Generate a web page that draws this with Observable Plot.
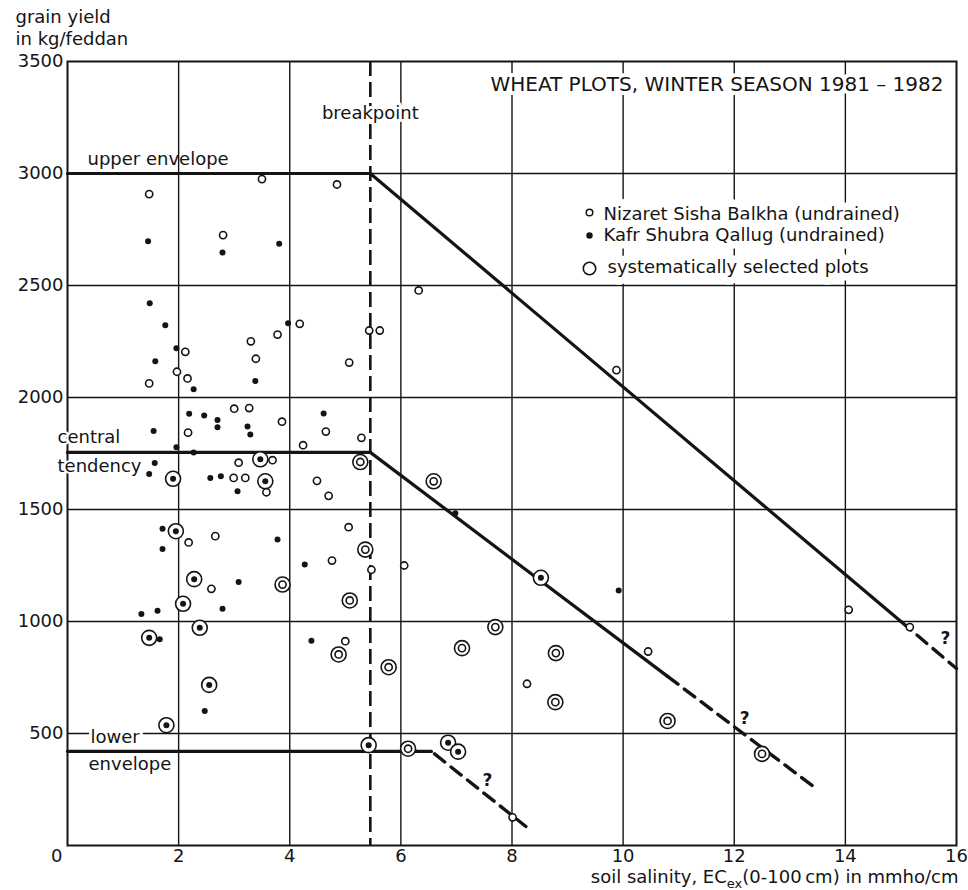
<!DOCTYPE html>
<html>
<head>
<meta charset="utf-8">
<script src="https://cdn.jsdelivr.net/npm/d3@7"></script>
<script src="https://cdn.jsdelivr.net/npm/@observablehq/plot@0.6"></script>
<style>
html,body{margin:0;padding:0;background:#fff;}
#chart svg{display:block;}
</style>
</head>
<body>
<div id="chart"></div>
<script>
// ---- Data ----
// Nizaret Sisha Balkha (undrained) – open circles
const nizaretX = [3.50, 4.85, 1.47, 2.80, 4.18, 5.43, 5.62, 3.78, 3.30, 2.12, 3.39, 5.07, 1.97, 2.16, 1.47, 3.00, 3.27, 3.86, 2.17, 4.65, 5.29, 4.24, 3.08, 3.69, 2.99, 3.20, 3.58, 4.49, 4.70, 2.18, 2.66, 5.06, 5.47, 4.76, 2.59, 5.00, 6.32, 6.06, 10.45, 8.27, 8.01, 14.06, 15.16, 9.88];
const nizaretY = [2975, 2951, 2908, 2725, 2329, 2299, 2299, 2281, 2251, 2204, 2173, 2156, 2115, 2085, 2063, 1950, 1953, 1892, 1843, 1848, 1820, 1787, 1709, 1720, 1641, 1641, 1577, 1628, 1561, 1353, 1381, 1421, 1231, 1272, 1146, 912, 2478, 1250, 866, 722, 126, 1052, 975, 2122];
// Kafr Shubra Qallug (undrained) – filled dots
const kafrX = [1.45, 2.79, 3.81, 1.48, 1.76, 3.97, 1.96, 1.58, 3.38, 2.27, 4.61, 2.19, 2.46, 2.70, 2.70, 3.24, 3.29, 1.55, 1.96, 2.27, 1.57, 1.47, 2.57, 2.76, 3.06, 1.71, 3.78, 1.71, 4.27, 3.08, 1.33, 1.62, 2.79, 1.66, 4.39, 2.47, 6.98, 9.92];
const kafrY = [2698, 2647, 2686, 2421, 2323, 2332, 2220, 2162, 2074, 2037, 1929, 1927, 1920, 1900, 1867, 1870, 1835, 1850, 1778, 1755, 1708, 1659, 1641, 1648, 1582, 1414, 1366, 1324, 1254, 1176, 1034, 1048, 1057, 921, 914, 601, 1483, 1138];
// systematically selected plots (ring) – Nizaret (open inside)
const selNizaretX = [5.27, 5.36, 3.87, 5.08, 4.88, 6.59, 5.78, 7.10, 7.70, 8.79, 8.78, 10.80, 6.13, 12.50];
const selNizaretY = [1712, 1321, 1165, 1094, 853, 1626, 796, 881, 975, 859, 640, 556, 432, 409];
// systematically selected plots (ring) – Kafr (filled inside)
const selKafrX = [1.90, 3.47, 3.56, 1.95, 2.28, 2.08, 2.38, 1.47, 2.55, 1.78, 5.42, 8.52, 6.85, 7.03];
const selKafrY = [1637, 1724, 1626, 1403, 1189, 1079, 972, 927, 717, 537, 448, 1195, 459, 419];

// envelope / tendency lines (vertices)
const breakX = 5.45;
const upperX = [0, 5.45, 15.0], upperY = [3000, 3000, 1000];
const upperExtX = [15.0, 16.0], upperExtY = [1000, 790];
const centralX = [0, 5.45, 10.8], centralY = [1755, 1755, 755];
const centralExtX = [10.8, 13.4], centralExtY = [755, 268];
const lowerX = [0, 6.55], lowerY = [420, 420];
const lowerExtX = [6.55, 8.25], lowerExtY = [420, 85];
// question marks on the uncertain extensions
const qX = [7.56, 12.19, 15.8], qY = [290, 567, 924];

// ticks / grid
const xTicks = [2, 4, 6, 8, 10, 12, 14, 16];
const yTicks = [500, 1000, 1500, 2000, 2500, 3000, 3500];
const xGrid = [2, 4, 6, 8, 10, 12, 14];
const yGrid = [500, 1000, 1500, 2000, 2500, 3000];

// texts
const titleText = "WHEAT PLOTS, WINTER SEASON 1981 \u2013 1982";
const legendLabels = ["Nizaret Sisha Balkha (undrained)", "Kafr Shubra Qallug (undrained)", "systematically selected plots"];
const yLabel = "grain yield\nin kg/feddan";
const xLabelParts = ["soil salinity, EC", "ex", "(0-100\u2009cm) in mmho/cm"];

// ---- build tables ----
const pts = (xs, ys) => xs.map((x, i) => ({x, y: ys[i]}));
const nizaret = pts(nizaretX, nizaretY);
const kafr = pts(kafrX, kafrY);
const selN = pts(selNizaretX, selNizaretY);
const selK = pts(selKafrX, selKafrY);
const upper = pts(upperX, upperY), upperExt = pts(upperExtX, upperExtY);
const central = pts(centralX, centralY), centralExt = pts(centralExtX, centralExtY);
const lower = pts(lowerX, lowerY), lowerExt = pts(lowerExtX, lowerExtY);
const qs = pts(qX, qY);

const ink = "#141414";
const font = "DejaVu Sans";
const halo = {stroke: "white", strokeWidth: 6, fill: ink};

const chart = Plot.plot({
  width: 968,
  height: 890,
  marginLeft: 67,
  marginRight: 12,
  marginTop: 61,
  marginBottom: 45,
  style: {fontFamily: font, fontSize: "18px", color: ink, background: "white"},
  x: {domain: [0, 16]},
  y: {domain: [0, 3500]},
  marks: [
    Plot.ruleX(xGrid, {stroke: ink, strokeWidth: 1.4}),
    Plot.ruleY(yGrid, {stroke: ink, strokeWidth: 1.4}),
    Plot.ruleX([breakX], {stroke: ink, strokeWidth: 2.6, strokeDasharray: "15,6"}),
    Plot.frame({stroke: ink, strokeWidth: 2}),
    // lines
    Plot.line(upper, {x: "x", y: "y", stroke: ink, strokeWidth: 3.2}),
    Plot.line(upperExt, {x: "x", y: "y", stroke: ink, strokeWidth: 3.4, strokeDasharray: "13,8"}),
    Plot.line(central, {x: "x", y: "y", stroke: ink, strokeWidth: 3.2}),
    Plot.line(centralExt, {x: "x", y: "y", stroke: ink, strokeWidth: 3.4, strokeDasharray: "13,8"}),
    Plot.line(lower, {x: "x", y: "y", stroke: ink, strokeWidth: 3.2}),
    Plot.line(lowerExt, {x: "x", y: "y", stroke: ink, strokeWidth: 3.4, strokeDasharray: "13,8", strokeDashoffset: -4}),
    // annotations
    Plot.text(["upper envelope"], {x: 0, y: 3000, dx: 20, dy: -9, textAnchor: "start", lineAnchor: "bottom", fontSize: 18, fill: ink}),
    Plot.text(["breakpoint"], {x: breakX, y: 3500, dy: 57, textAnchor: "middle", lineAnchor: "bottom", fontSize: 18, ...halo}),
    Plot.text(["central"], {x: 0, y: centralY[0], dx: -10, dy: -9, textAnchor: "start", lineAnchor: "bottom", fontSize: 18, ...halo, strokeWidth: 4}),
    Plot.text(["tendency"], {x: 0, y: centralY[0], dx: -10, dy: 20, textAnchor: "start", lineAnchor: "bottom", fontSize: 18, ...halo, strokeWidth: 4}),
    Plot.text(["lower"], {x: 0, y: lowerY[0], dx: 23, dy: -8, textAnchor: "start", lineAnchor: "bottom", fontSize: 18, ...halo, strokeWidth: 6}),
    Plot.text(["envelope"], {x: 0, y: lowerY[0], dx: 21, dy: 19, textAnchor: "start", lineAnchor: "bottom", fontSize: 18, ...halo, strokeWidth: 4}),
    Plot.text(qs, {x: "x", y: "y", text: () => "?", fontSize: 17, fontWeight: "bold", fill: ink}),
    // title
    Plot.text([titleText], {frameAnchor: "top-right", dx: -13, dy: 29, textAnchor: "end", lineAnchor: "bottom", fontSize: 20, ...halo, strokeWidth: 8}),
    // legend
    Plot.text([legendLabels[0]], {frameAnchor: "top-left", dx: 536, dy: 158, textAnchor: "start", lineAnchor: "bottom", fontSize: 18, ...halo, strokeWidth: 15}),
    Plot.text([legendLabels[1]], {frameAnchor: "top-left", dx: 536, dy: 179, textAnchor: "start", lineAnchor: "bottom", fontSize: 18, ...halo, strokeWidth: 15}),
    Plot.text([legendLabels[2]], {frameAnchor: "top-left", dx: 540, dy: 211, textAnchor: "start", lineAnchor: "bottom", fontSize: 18, ...halo, strokeWidth: 15}),
    Plot.dot([0], {frameAnchor: "top-left", dx: 522, dy: 151, r: 3.3, stroke: ink, strokeWidth: 1.5, fill: "white"}),
    Plot.dot([0], {frameAnchor: "top-left", dx: 522, dy: 174, r: 3.2, fill: ink, stroke: "none"}),
    Plot.dot([0], {frameAnchor: "top-left", dx: 522, dy: 207, r: 6.2, stroke: ink, strokeWidth: 1.6, fill: "white"}),
    // axis labels
    Plot.text([yLabel], {frameAnchor: "top-left", dx: -52, dy: -17, textAnchor: "start", lineAnchor: "bottom", lineHeight: 1.17, fontSize: 18, fill: ink}),
    Plot.text([xLabelParts.join("")], {frameAnchor: "bottom-right", dx: 2, dy: 37, textAnchor: "end", lineAnchor: "bottom", fontSize: 18, fill: ink}),
    Plot.text(["0"], {frameAnchor: "bottom-left", dx: -5, dy: 4, textAnchor: "end", lineAnchor: "top", fontSize: 18, fill: ink}),
    // selected rings
    Plot.dot(selN, {x: "x", y: "y", r: 7.5, stroke: ink, strokeWidth: 1.6, fill: "white"}),
    Plot.dot(selK, {x: "x", y: "y", r: 7.5, stroke: ink, strokeWidth: 1.6, fill: "white"}),
    // points
    Plot.dot(nizaret, {x: "x", y: "y", r: 3.6, stroke: ink, strokeWidth: 1.6, fill: "white"}),
    Plot.dot(selN, {x: "x", y: "y", r: 3.6, stroke: ink, strokeWidth: 1.6, fill: "white"}),
    Plot.dot(kafr, {x: "x", y: "y", r: 3.0, fill: ink, stroke: "none"}),
    Plot.dot(selK, {x: "x", y: "y", r: 3.0, fill: ink, stroke: "none"}),
    // axes
    Plot.axisX({ticks: xTicks, tickSize: 0, tickPadding: 4, label: null, fontSize: 18, tickFormat: d => String(d)}),
    Plot.axisY({ticks: yTicks, tickSize: 0, tickPadding: 4, label: null, fontSize: 18, tickFormat: d => String(d)})
  ]
});

// subscript in the x-axis label
chart.querySelectorAll("text").forEach(t => {
  if (t.textContent === xLabelParts.join("")) {
    while (t.firstChild) t.removeChild(t.firstChild);
    const ns = "http://www.w3.org/2000/svg";
    const a = document.createElementNS(ns, "tspan"); a.textContent = xLabelParts[0];
    const b = document.createElementNS(ns, "tspan"); b.textContent = xLabelParts[1];
    b.setAttribute("dy", "5"); b.setAttribute("font-size", "13");
    const c = document.createElementNS(ns, "tspan"); c.textContent = xLabelParts[2];
    c.setAttribute("dy", "-5");
    t.append(a, b, c);
  }
});

document.getElementById("chart").append(chart);
</script>
</body>
</html>
